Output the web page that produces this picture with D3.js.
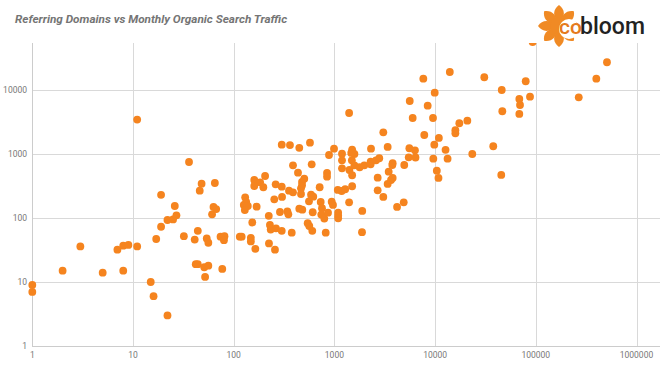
<!DOCTYPE html>
<html>
<head>
<meta charset="utf-8">
</head>
<body style="margin:0">
<style>

    body {
        background: #fff;
        font-family: Roboto, "Noto Sans", sans-serif;
    }

    .grid line {
        stroke: #d9d9d9;
        stroke-width: 1px;
        shape-rendering: crispEdges;
    }

    .tick-label {
        fill: #777;
        font-size: 8.5px;
    }

    circle.dot {
        fill: #f5841f;
    }

</style>
<script src="https://cdn.jsdelivr.net/npm/d3@7"></script>
<script>

    var width = 660;
    var height = 376;

    // referring domains (x) and monthly organic traffic (y)
    var domains = [1, 1, 2, 3, 5, 7, 8, 8, 9, 11, 11, 15, 16, 22, 17, 19, 19, 22, 25, 26,
        27, 32, 36, 41, 44, 42, 44, 46, 48, 51, 52, 54, 56, 56, 61, 63, 67, 65, 74, 81,
        80, 77, 115, 120, 126, 130, 133, 138, 129, 148, 148, 153, 160, 160, 164, 169, 183, 197, 205, 223,
        224, 229, 233, 263, 300, 257, 253, 261, 288, 300, 302, 300, 341, 349, 354, 362, 377, 388, 388, 435,
        448, 448, 480, 466, 466, 477, 477, 502, 543, 563, 603, 559, 572, 586, 617, 595, 609, 714, 731, 753,
        741, 794, 820, 845, 845, 864, 884, 940, 968, 991, 1080, 1090, 1090, 1090, 1180, 1280, 1190, 1190, 1190, 1400,
        1410, 1400, 1500, 1580, 1470, 1490, 1500, 1500, 1580, 1780, 1880, 1890, 1980, 2290, 2290, 2310, 2590, 2790, 2690, 2690,
        3060, 3060, 3380, 3380, 3460, 3650, 3790, 3790, 3760, 4190, 4880, 4940, 5470, 5550, 5600, 5990, 6310, 6390, 7640, 7810,
        8440, 9530, 9600, 9820, 9910, 10400, 10800, 10900, 12700, 13300, 14000, 15900, 15900, 17400, 20900, 23400, 30800, 37800, 45900, 46500,
        45400, 68600, 69700, 68600, 79400, 87600, 93000, 267000, 399000, 509000];

    var traffic = [9, 7, 15, 36, 14, 32, 37, 15, 38, 36, 3450, 10, 6, 3, 47, 230, 73, 93, 95, 154,
        110, 52, 750, 46, 63, 19, 19, 267, 344, 17, 12, 48, 41, 18, 114, 149, 138, 352, 51, 52,
        45, 16, 51, 51, 160, 210, 178, 154, 133, 49, 43, 85, 392, 316, 33, 150, 361, 302, 453, 108,
        40, 78, 66, 69, 63, 32, 196, 336, 124, 308, 213, 1400, 127, 114, 267, 1380, 59, 252, 666, 510,
        1250, 140, 135, 291, 237, 365, 324, 411, 83, 75, 63, 182, 1500, 231, 215, 690, 123, 302, 178, 142,
        113, 98, 59, 505, 442, 121, 965, 180, 160, 1210, 274, 121, 108, 99, 264, 281, 1010, 797, 598, 4370,
        562, 176, 1170, 1000, 1040, 797, 465, 313, 666, 620, 60, 129, 666, 758, 690, 1210, 797, 857, 426, 271,
        2180, 213, 1290, 340, 529, 392, 422, 716, 673, 149, 176, 673, 888, 1230, 6730, 3650, 1140, 882, 15000, 1980,
        5690, 3650, 845, 1400, 9070, 548, 422, 1780, 1160, 845, 19100, 2350, 2100, 3020, 3310, 1000, 15800, 1320, 10000, 4650,
        470, 7230, 5830, 4220, 13700, 7860, 56000, 7690, 15000, 27100];

    var xTicks = [1, 10, 100, 1000, 10000, 100000, 1000000];
    var yTicks = [1, 10, 100, 1000, 10000];

    var title = "Referring Domains vs Monthly Organic Search Traffic";

    var plotLeft = 32.3, plotRight = 660, plotTop = 43, plotBottom = 346;

    var x = d3.scaleLog()
        .domain([1, 1.7e6])
        .range([plotLeft, plotLeft + 100.7 * Math.log10(1.7e6)]);

    var y = d3.scaleLog()
        .domain([1, 54200])
        .range([plotBottom, plotTop]);

    var svg = d3.select("body").append("svg")
        .attr("width", width)
        .attr("height", height);

    svg.append("defs").append("clipPath")
        .attr("id", "plot")
        .append("rect")
        .attr("x", 0)
        .attr("y", plotTop)
        .attr("width", width)
        .attr("height", height - plotTop);

    var grid = svg.append("g").attr("class", "grid");

    grid.selectAll("line.h")
        .data(yTicks)
        .enter()
        .append("line")
        .attr("class", "h")
        .attr("x1", plotLeft)
        .attr("x2", plotRight)
        .attr("y1", function (d) { return Math.round(y(d)) + 0.5; })
        .attr("y2", function (d) { return Math.round(y(d)) + 0.5; })
        .style("stroke", function (d) { return d === 1 ? "#cccccc" : null; });

    grid.selectAll("line.v")
        .data(xTicks)
        .enter()
        .append("line")
        .attr("class", "v")
        .attr("x1", function (d) { return Math.round(x(d)) + 0.5; })
        .attr("x2", function (d) { return Math.round(x(d)) + 0.5; })
        .attr("y1", plotTop)
        .attr("y2", plotBottom)
        .style("stroke", function (d) { return d === 1 ? "#cccccc" : null; });

    // tick labels
    svg.selectAll("text.xl")
        .data(xTicks)
        .enter()
        .append("text")
        .attr("class", "tick-label")
        .attr("x", function (d) { return x(d); })
        .attr("y", plotBottom + 12)
        .attr("text-anchor", "middle")
        .text(function (d) { return d; });

    svg.selectAll("text.yl")
        .data(yTicks)
        .enter()
        .append("text")
        .attr("class", "tick-label")
        .attr("x", 27)
        .attr("y", function (d) { return y(d) + 3; })
        .attr("text-anchor", "end")
        .text(function (d) { return d; });

    // points
    var points = d3.range(domains.length).map(function (i) {
        return [domains[i], traffic[i]];
    });

    svg.append("g")
        .attr("clip-path", "url(#plot)")
        .selectAll("circle")
        .data(points)
        .enter()
        .append("circle")
        .attr("class", "dot")
        .attr("cx", function (d) { return x(d[0]); })
        .attr("cy", function (d) { return y(d[1]); })
        .attr("r", 3.9);

    // title
    svg.append("text")
        .attr("x", 15)
        .attr("y", 23)
        .style("font-size", "11.75px")
        .style("font-weight", "bold")
        .style("font-style", "italic")
        .style("fill", "#757575")
        .text(title);

    // logo
    var logo = svg.append("g").attr("transform", "translate(559,26)");

    d3.range(8).forEach(function (i) {
        logo.append("path")
            .attr("d", "M0,-4 C7,-9 6,-17 0,-21 C-6,-17 -7,-9 0,-4 Z")
            .attr("transform", "rotate(" + (i * 45) + ")")
            .style("fill", "#f08a24");
    });

    logo.append("circle")
        .attr("r", 9)
        .style("fill", "#f08a24");

    logo.append("circle")
        .attr("cx", 10)
        .attr("cy", 3)
        .attr("r", 10)
        .style("fill", "#fff");

    logo.append("text")
        .attr("x", 0)
        .attr("y", 8)
        .style("font-size", "21px")
        .style("font-weight", "500")
        .style("fill", "#e57a1c")
        .text("co");

    logo.append("text")
        .attr("x", 21)
        .attr("y", 8)
        .style("font-size", "23px")
        .style("font-weight", "500")
        .style("fill", "#222")
        .text("bloom");

</script>
</body>
</html>
